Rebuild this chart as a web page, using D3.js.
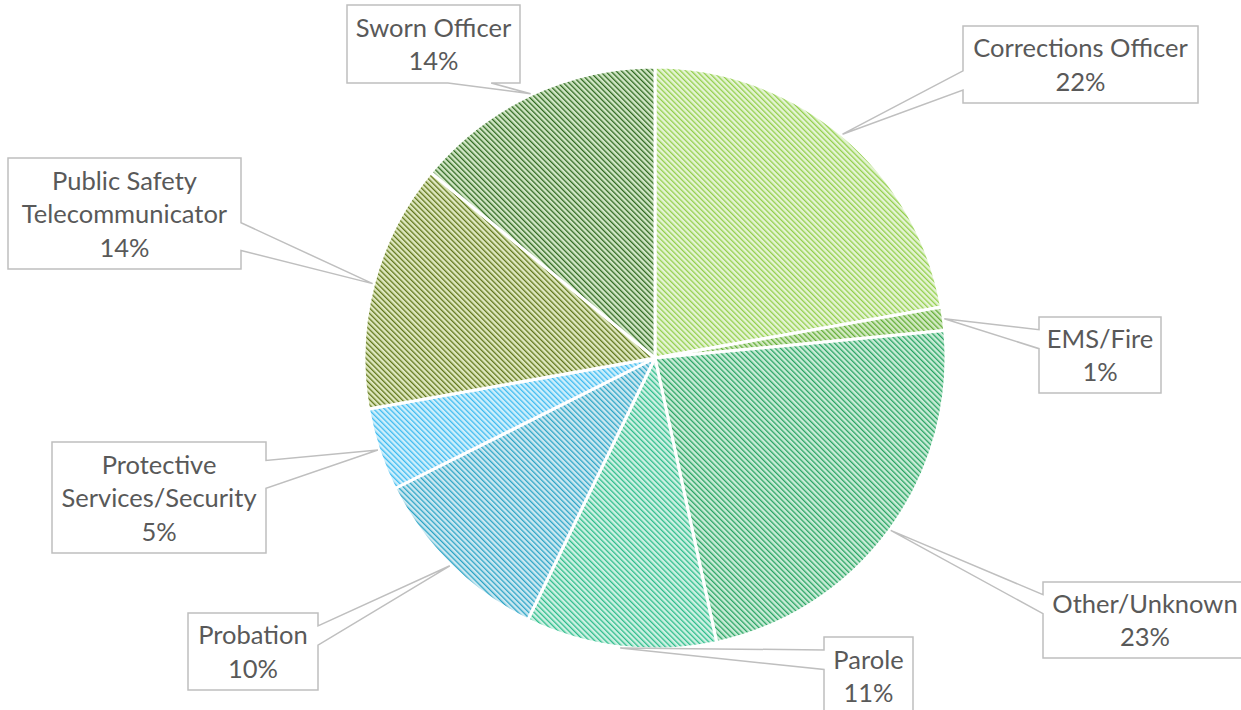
<!DOCTYPE html>
<html>
<head>
<meta charset="utf-8">
<script src="https://cdn.jsdelivr.net/npm/d3@7"></script>
<style>
  body { margin: 0; background: #fff; }
  svg { display: block; }
</style>
</head>
<body>
<div id="chart"></div>
<script>
// Data (share of respondents, %).
var categories = ["Corrections Officer", "EMS/Fire", "Other/Unknown", "Parole",
                  "Probation", "Protective Services/Security",
                  "Public Safety Telecommunicator", "Sworn Officer"];
var values = [22.2, 1.3, 23.1, 10.6, 10.4, 4.6, 13.8, 14.0];
// How each category name is broken inside its callout.
var labelLines = [["Corrections Officer"], ["EMS/Fire"], ["Other/Unknown"], ["Parole"],
                  ["Probation"], ["Protective", "Services/Security"],
                  ["Public Safety", "Telecommunicator"], ["Sworn Officer"]];

// Hatch colours: stripe colour and background tint.
var stripeColors = ["#93cf4c", "#62ad36", "#28a463", "#2dbd8b",
                    "#2ca5c6", "#3dbbf0", "#5f761a", "#2f6a20"];
var tintColors   = ["#e5f4d4", "#d2eac2", "#c9ecd7", "#cdf1e3",
                    "#cbe8f1", "#cdeffc", "#dfe8bf", "#d2e7c6"];

// Callout boxes [x, y, width, height].
var labelBoxes = [[963, 26, 235, 77], [1039, 317, 122, 76], [1043, 582, 204, 76],
                  [824, 637, 89, 78], [188, 613, 130, 77], [52, 442, 214, 111],
                  [8, 158, 233, 111], [347, 5, 173, 78]];

var width = 1241;
var height = 710;
var cx = 655, cy = 358, radius = 291;
var lineHeight = 33.5;

var svg = d3.select('#chart')
            .append('svg')
            .attr('width', width)
            .attr('height', height);

// Diagonal hatch patterns, one per slice.
var defs = svg.append('defs');
categories.forEach(function(c, i) {
  var p = defs.append('pattern')
              .attr('id', 'hatch' + i)
              .attr('patternUnits', 'userSpaceOnUse')
              .attr('width', 3.8)
              .attr('height', 10)
              .attr('patternTransform', 'rotate(-45)');
  p.append('rect')
   .attr('width', 3.8).attr('height', 10)
   .attr('fill', tintColors[i]);
  p.append('rect')
   .attr('width', 1.3).attr('height', 10)
   .attr('fill', stripeColors[i]);
});

var pie = d3.pie().sort(null).value(function(d) { return d; });
var arcs = pie(values);

var arc = d3.arc().innerRadius(0).outerRadius(radius);

var g = svg.append('g')
           .attr('transform', 'translate(' + cx + ',' + cy + ')');

g.selectAll('path')
 .data(arcs)
 .enter()
 .append('path')
 .attr('d', arc)
 .attr('fill', function(d, i) { return 'url(#hatch' + i + ')'; })
 .attr('stroke', '#fff')
 .attr('stroke-width', 3)
 .attr('stroke-linejoin', 'round');

// Wedge-shaped callout like Excel's data callouts.
function calloutPath(b, tx, ty) {
  var x = b[0], y = b[1], w = b[2], h = b[3];
  var mx = x + w / 2, my = y + h / 2;
  var dx = (tx - mx) / w, dy = (ty - my) / h;
  var side, a1, a2;
  if (Math.abs(dx) > Math.abs(dy)) {
    side = dx < 0 ? 'left' : 'right';
    if (ty < my) { a1 = y + h * 2 / 12; a2 = y + h * 5 / 12; }
    else { a1 = y + h * 7 / 12; a2 = y + h * 10 / 12; }
  } else {
    side = dy < 0 ? 'top' : 'bottom';
    if (tx < mx) { a1 = x + w * 2 / 12; a2 = x + w * 5 / 12; }
    else { a1 = x + w * 7 / 12; a2 = x + w * 10 / 12; }
  }
  var p = d3.path();
  p.moveTo(x, y);
  if (side === 'top') { p.lineTo(a1, y); p.lineTo(tx, ty); p.lineTo(a2, y); }
  p.lineTo(x + w, y);
  if (side === 'right') { p.lineTo(x + w, a1); p.lineTo(tx, ty); p.lineTo(x + w, a2); }
  p.lineTo(x + w, y + h);
  if (side === 'bottom') { p.lineTo(a2, y + h); p.lineTo(tx, ty); p.lineTo(a1, y + h); }
  p.lineTo(x, y + h);
  if (side === 'left') { p.lineTo(x, a2); p.lineTo(tx, ty); p.lineTo(x, a1); }
  p.closePath();
  return p.toString();
}

var labels = svg.append('g')
                .selectAll('g')
                .data(arcs)
                .enter()
                .append('g');

labels.append('path')
      .attr('d', function(d, i) {
        var mid = (d.startAngle + d.endAngle) / 2;
        var tx = cx + (radius + 1) * Math.sin(mid);
        var ty = cy - (radius + 1) * Math.cos(mid);
        return calloutPath(labelBoxes[i], tx, ty);
      })
      .attr('fill', '#fff')
      .attr('stroke', '#bfbfbf')
      .attr('stroke-width', 1.5);

labels.each(function(d, i) {
  var b = labelBoxes[i];
  var lines = labelLines[i].concat([Math.round(d.data) + '%']);
  var midY = b[1] + b[3] / 2;
  d3.select(this).selectAll('text')
    .data(lines)
    .enter()
    .append('text')
    .text(function(t) { return t; })
    .attr('x', b[0] + b[2] / 2)
    .attr('y', function(t, j) {
      return midY + (j - (lines.length - 1) / 2) * lineHeight + 9.5;
    })
    .attr('text-anchor', 'middle')
    .style('font-family', 'Lato, "Open Sans", sans-serif')
    .style('font-size', '25.5px')
    .style('fill', '#595959');
});
</script>
</body>
</html>
